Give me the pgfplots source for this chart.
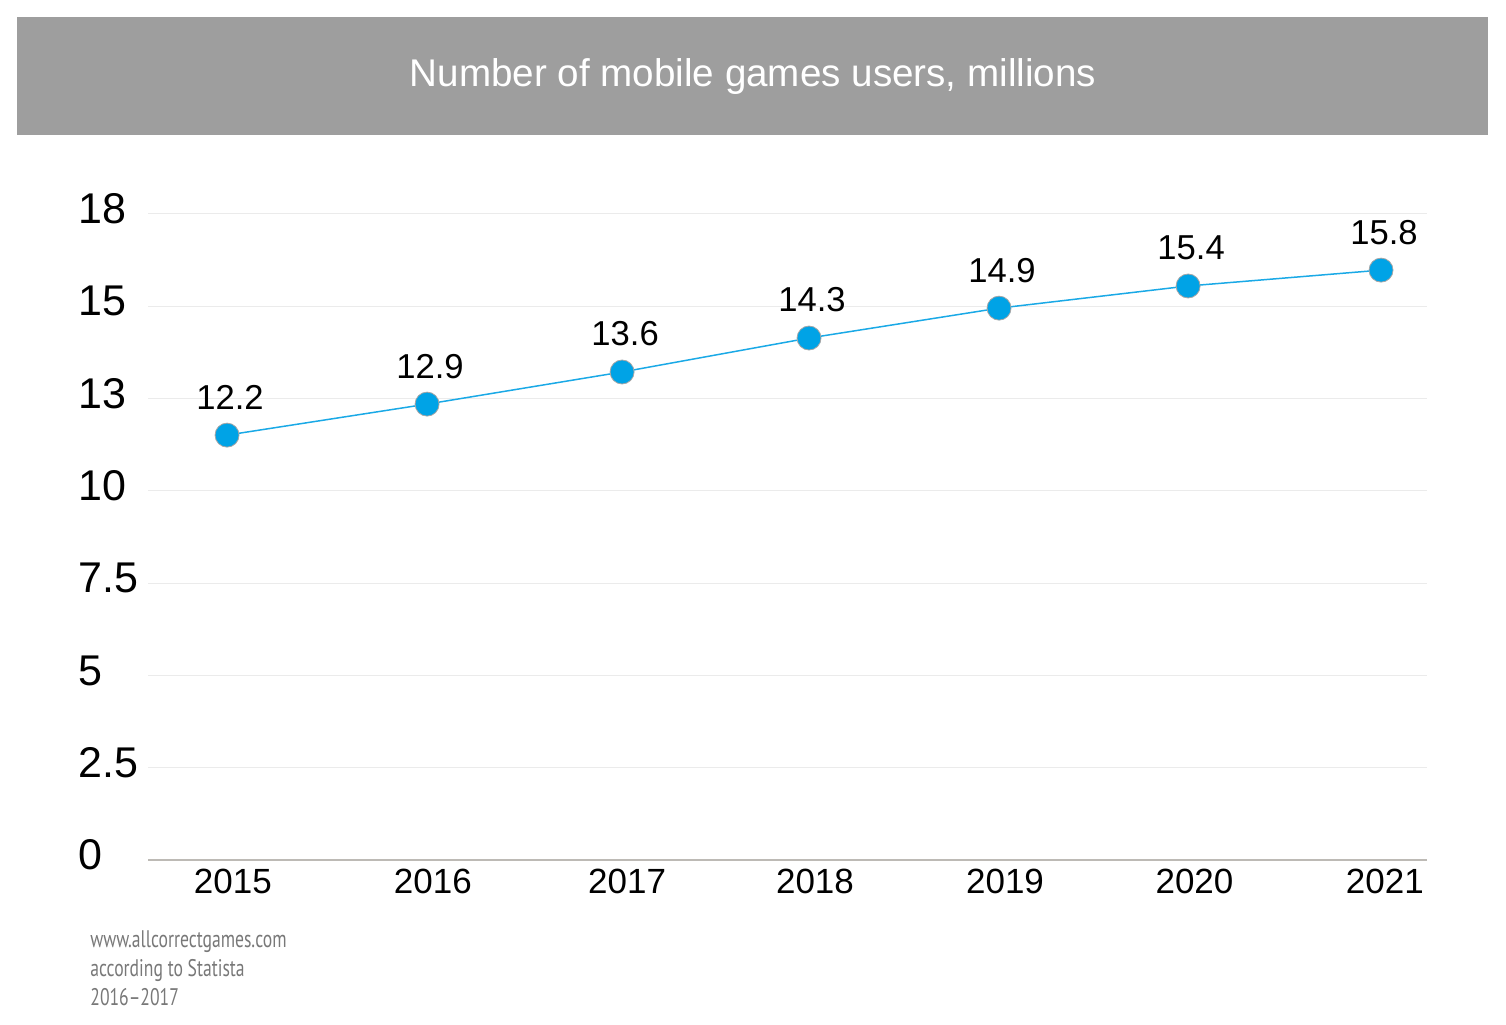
\documentclass[border=0pt]{standalone}
\usepackage{pgfplots}
\pgfplotsset{compat=1.18}
\usepackage{fontspec}
\setmainfont{Liberation Sans}
\newfontfamily\srcfont[FakeStretch=0.735]{PT Sans}
\definecolor{titlegray}{HTML}{9E9E9E}
\definecolor{gridgray}{HTML}{EBEBEB}
\definecolor{axisgray}{HTML}{BDBAB5}
\definecolor{lineblue}{HTML}{1AA9E6}
\definecolor{markblue}{HTML}{00A3E6}
\definecolor{srcgray}{HTML}{787878}
\begin{document}
\begin{tikzpicture}
\path[use as bounding box] (0,0) rectangle (753pt,512pt);
\fill[titlegray] (8.5pt,444.5pt) rectangle (744pt,503.5pt);
\node[text=white, font=\fontsize{19.3}{23}\selectfont, inner sep=0] at (376.5pt,473.5pt) {Number of mobile games users, millions};
\begin{axis}[
  at={(74pt,82pt)}, anchor=south west,
  scale only axis, width=639.5pt, height=323pt,
  xmin=-0.411, xmax=6.239, ymin=0, ymax=17.5,
  clip=false,
  axis lines*=left,
  y axis line style={draw=none},
  x axis line style={draw=axisgray, line width=1pt},
  major tick length=0pt,
  xtick={0.03,1.07,2.08,3.057,4.045,5.03,6.02},
  xticklabels={2015,2016,2017,2018,2019,2020,2021},
  ytick={0,2.5,5,7.5,10,12.5,15,17.5},
  yticklabels={0,2.5,5,7.5,10,13,15,18},
  ymajorgrids, major grid style={draw=gridgray, line width=0.5pt},
  /pgf/number format/assume math mode=true,
  yticklabel style={anchor=west, inner sep=0pt, xshift=-35pt, yshift=2.5pt, font=\fontsize{21.5}{26}\selectfont},
  xticklabel style={anchor=north, inner sep=0pt, yshift=-4.5pt, font=\fontsize{17.5}{21}\selectfont},
  nodes near coords,
  point meta=explicit symbolic,
  nodes near coords style={anchor=center, inner sep=0pt, yshift=19pt, xshift=1.5pt, font=\fontsize{17.3}{20}\selectfont, text=black},
]
\addplot[color=lineblue, line width=0.75pt, mark=*, mark size=6pt,
  mark options={fill=markblue, draw=gray!70, line width=0.4pt}]
  table[meta=label] {
x y label
0 11.51 12.2
1.04 12.35 12.9
2.054 13.22 13.6
3.026 14.14 14.3
4.014 14.95 14.9
4.997 15.55 15.4
6 15.98 15.8
};
\end{axis}
\node[anchor=north west, inner sep=0, align=left, text=srcgray, font=\srcfont\fontsize{12}{14.5}\selectfont] at (45pt,47pt) {www.allcorrectgames.com\\according to Statista\\2016–2017};
\end{tikzpicture}
\end{document}
